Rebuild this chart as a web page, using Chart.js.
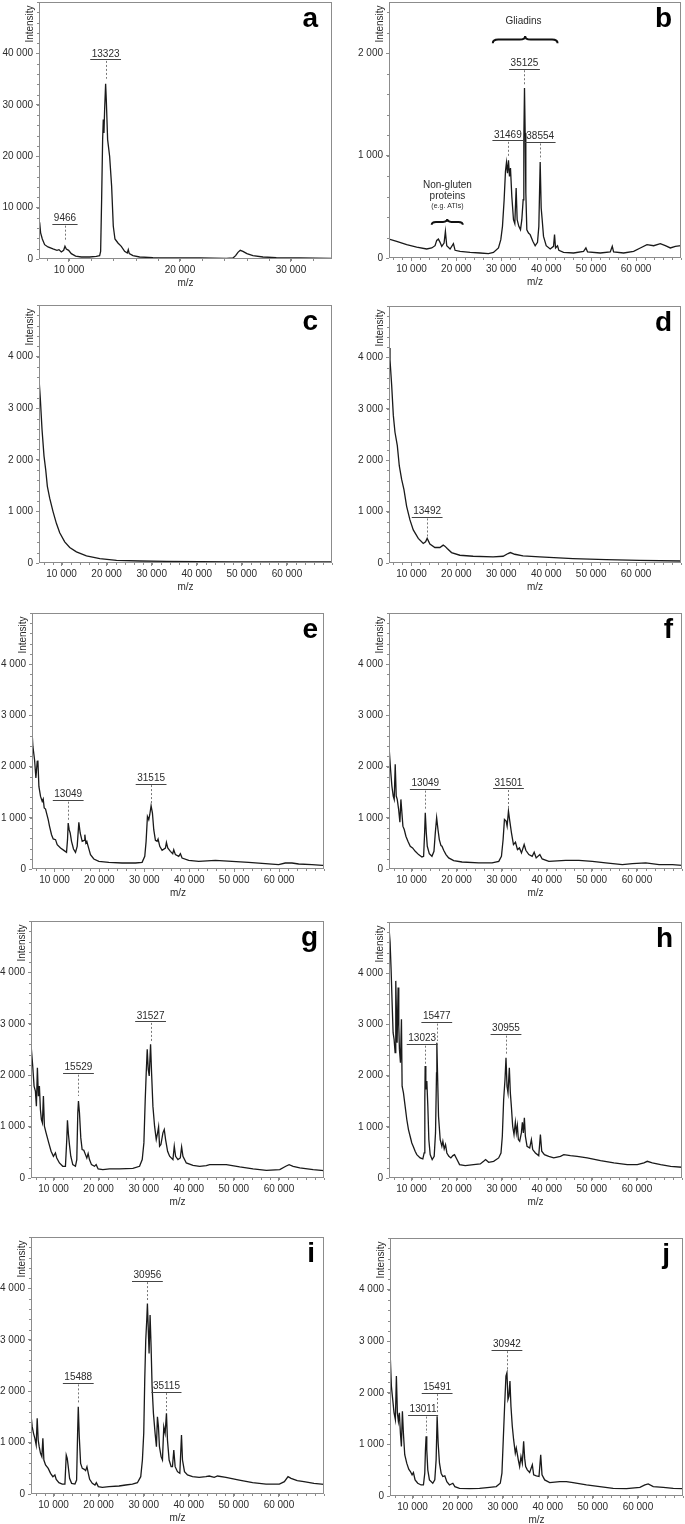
<!DOCTYPE html>
<html>
<head>
<meta charset="utf-8">
<script src="https://cdn.jsdelivr.net/npm/chart.js@4.4.1/dist/chart.umd.min.js"></script>
<style>
  body { margin: 0; background: #fff; }
  #fig { position: relative; width: 685px; height: 1524px; overflow: hidden; }
  #fig canvas { position: absolute; }
</style>
</head>
<body>
<div id="fig"></div>
<script>
// MALDI spectra, panels a-j. m/z and intensity.

const MZ_A = [7297,7357,7447,7598,7808,8108,8559,8919,9099,9309,9520,9640,9760,9970,10210,10600,11111,11862,12462,12763,12853,12943,13033,13093,13153,13213,13303,13363,13483,13664,13844,13994,14144,14414,14715,15015,15255,15345,15435,15766,16366,17567,19369,21777,24180,24775,25015,25225,25435,25675,26035,26576,27477,28679,30781,33694];
const INT_A = [5700,7140,5060,3890,2790,2340,1950,1690,1820,1360,1690,2470,1950,1690,1040,580,390,390,520,650,1490,11550,23230,27130,24530,29080,34070,31020,23230,19990,14150,6360,3890,3120,2470,1490,1170,1820,1040,650,390,260,195,195,130,195,650,1300,1690,1490,1040,650,390,260,195,130];

const MZ_B = [5000,6709,8937,11166,13395,14509,15252,15623,15995,16366,16738,17258,17555,17852,18595,19338,19709,20824,23052,25281,27138,28253,29367,29887,30259,30630,30927,31150,31373,31596,31819,32042,32339,32710,33007,33304,33527,33899,34270,34567,34865,35013,35162,35310,35459,35682,36053,36425,37019,37539,38059,38356,38653,38876,39099,39396,39991,40882,41625,41848,42071,42516,42813,43853,46082,48311,48831,49203,52026,54254,54700,54997,57226,59455,60940,62426,63912,65398,66512,67627,68741,70004];
const INT_B = [185,163,130,107,88,98,120,172,185,153,114,146,260,120,88,140,75,65,55,49,42,55,98,179,309,569,846,933,829,953,797,878,602,374,335,683,374,309,276,374,569,1154,1659,1220,634,276,244,228,163,120,153,309,937,488,374,211,120,88,114,228,98,120,75,55,49,65,98,59,49,59,114,59,49,65,98,130,120,140,120,98,114,120];

const MZ_C = [5000,5296,5667,6112,6482,6853,7372,8113,8854,9595,10707,11819,13301,15525,18490,22196,27384,33314,40726,48138,55550,62962,70000];
const INT_C = [3570,3180,2593,2072,1811,1485,1257,997,769,586,410,300,215,137,85,52,39,33,26,20,20,20,20];

const MZ_D = [5000,5222,5592,5962,6333,6851,7295,7813,8331,8924,9664,10404,11515,12625,13143,13492,14106,15216,16327,17067,17437,17955,18918,20768,23729,28171,30392,31503,32021,32983,34834,38536,45939,53342,60745,70000];
const INT_D = [4183,3954,3462,2872,2544,2282,1888,1626,1429,1102,839,643,479,380,413,479,367,302,302,348,328,282,203,151,131,118,131,184,203,170,138,118,85,66,52,39];

const MZ_E = [4680,4902,5199,5569,5866,6162,6311,6533,6904,7274,7497,7719,8015,8238,8608,8905,9350,9720,10239,10610,11351,12092,12685,12907,13056,13278,13500,13797,14241,14686,15057,15428,15724,16169,16614,16762,16984,17206,17503,18022,18763,19875,22098,25063,28028,29510,30103,30400,30696,30993,31215,31511,31808,32104,32475,32846,33068,33439,33957,34699,34921,35217,35810,36329,36552,36922,37663,38034,38405,39887,42111,45817,49523,53229,56935,59900,61382,62864,64357,67311,69683,70000];
const INT_E = [3110,2850,2394,2134,1776,2101,2121,1613,1418,1321,1366,1191,1171,1093,963,833,670,586,573,475,410,364,325,573,898,768,703,540,390,325,442,911,703,540,560,670,507,540,442,280,195,150,130,117,117,130,247,540,1028,963,1060,1236,1093,768,560,540,586,442,364,410,520,410,345,299,377,280,247,299,215,169,150,169,150,130,104,85,117,117,98,85,72,72];

const MZ_F = [4750,5046,5343,5639,5936,6158,6380,6603,6825,7121,7418,7640,7862,8085,8381,8751,9196,9715,10233,10826,11567,12308,12679,12901,13049,13272,13494,13938,14531,14976,15272,15569,15865,16161,16532,16754,17125,17643,18236,19348,21200,24905,27869,29351,29944,30315,30611,30981,31204,31501,31797,32167,32612,33056,33501,33945,34390,34983,35353,36020,36761,37206,37650,38466,38984,40466,44171,47135,50099,53063,56768,58991,61955,64919,67883,70000];
const INT_F = [2667,2340,1948,1621,1425,1359,2046,1425,1359,1176,915,1359,1098,837,771,641,542,444,412,346,281,235,248,706,1098,706,444,301,248,346,706,1000,771,575,458,444,366,281,216,163,137,118,118,150,248,575,967,935,837,1131,935,706,477,523,379,412,314,477,366,281,248,327,216,281,196,150,170,170,150,118,85,105,118,85,85,72];

const MZ_G = [4864,5086,5382,5679,5975,6197,6419,6641,6864,7086,7308,7530,7752,7975,8345,8937,9456,9974,10419,10715,11307,12048,12640,12937,13085,13307,13529,13825,14270,14862,15158,15381,15529,15751,16047,16343,16714,17084,17380,17676,17973,18417,19084,19454,19898,20935,22416,24638,27600,29081,29674,30044,30341,30563,30785,31007,31229,31526,31748,32044,32414,32785,33081,33303,33525,33821,34266,34562,34858,35303,35747,36488,36784,37080,37599,38117,38413,38709,39450,40931,42412,43893,44634,46115,48337,51299,54262,57224,60186,61519,62260,63149,64630,67593,69963];
const INT_G = [2829,2504,2179,1789,1691,1398,2146,1593,1789,1333,1138,1073,1593,1008,878,683,520,423,488,390,293,228,228,748,1125,845,650,423,260,228,358,1268,1496,1268,780,553,540,455,390,475,358,260,228,260,176,163,176,176,189,228,358,683,1528,2049,2504,2114,1984,2602,2049,1398,1008,748,878,995,618,650,878,943,748,520,423,358,618,423,358,390,605,423,293,247,228,241,260,260,260,215,176,150,163,228,260,228,195,163,143];

const MZ_H = [5020,5242,5465,5687,5909,6132,6354,6502,6650,6798,7021,7169,7317,7539,7762,7910,8206,8577,8947,9318,9688,10059,10429,10800,11170,11911,12504,12801,12949,13023,13171,13393,13616,13838,14134,14579,15024,15320,15542,15616,15764,15987,16357,16728,16950,17247,17543,17839,18284,18729,19171,19542,19912,20653,21915,23767,25249,25990,26435,27102,28213,29325,29844,30140,30436,30733,30955,31177,31400,31696,31918,32141,32437,32733,33030,33252,33474,33697,33993,34364,34586,34808,35031,35253,35623,36216,36587,36883,37476,38217,38587,38884,39477,40440,41551,43033,43774,45256,46738,48961,51925,54889,57853,60076,61558,62299,63411,65263,67486,70080];
const INT_H = [4861,4600,4078,3426,2838,2708,2447,3850,3230,2643,3719,2969,2512,2251,3099,1794,1664,1403,1142,946,816,685,607,522,457,392,372,489,1533,2186,1729,1892,1403,750,457,359,424,881,2055,2643,2055,1207,750,620,718,568,652,489,424,392,437,457,392,261,241,261,274,326,359,307,326,392,489,816,1533,1925,2349,1794,1664,2153,1664,1403,1011,848,1090,881,1024,750,718,881,1090,881,1174,816,620,587,750,555,489,437,848,522,457,424,392,424,457,437,424,392,339,294,261,261,294,326,294,261,228,209];

const MZ_I = [4743,4965,5262,5558,5855,6151,6373,6596,6818,7115,7411,7633,7855,8226,8819,9337,9856,10301,10597,11190,11931,12524,12820,13042,13265,13561,14006,14747,15117,15339,15488,15710,16006,16377,16821,17118,17414,17711,18007,18600,19193,19489,19934,20823,22305,24528,26010,27492,28603,29344,29715,30011,30233,30456,30678,30826,31048,31197,31419,31641,31864,32160,32531,32827,33049,33272,33494,33864,34161,34457,34754,35050,35272,35643,36087,36384,36680,36977,37496,38015,38385,38608,39052,39718,40830,42312,43794,44535,45646,46387,48240,51204,54168,57132,60096,61208,62022,62689,64059,65541,67766,70134];
const INT_I = [1828,1569,1310,1180,1083,953,1472,1050,921,791,726,1083,661,564,499,402,337,370,285,220,194,194,759,694,532,305,207,194,272,1180,1699,1115,596,499,480,454,532,402,285,207,175,220,143,130,143,156,175,194,220,337,661,1180,2217,2995,3384,3708,3125,2736,3481,2865,2087,1569,1180,921,1504,1310,921,726,661,1310,1180,1569,1050,661,532,532,856,532,434,402,1148,661,434,370,337,324,337,350,324,350,324,272,220,194,194,240,337,305,259,240,207,188];

const MZ_J = [4860,5082,5305,5601,5897,6194,6416,6638,6861,7083,7305,7528,7750,7972,8269,8713,9158,9528,9899,10195,10566,11159,11900,12418,12715,12863,13011,13159,13382,13752,14493,14938,15234,15457,15679,15975,16346,16716,17161,17605,18198,18939,19384,20421,22644,24867,27090,28572,29461,29832,30128,30425,30721,30943,31166,31388,31610,31832,32129,32425,32796,33018,33240,33463,33759,34055,34352,34648,34871,35093,35463,35982,36575,36871,37464,38057,38433,38724,39317,40428,42651,44133,45615,48579,51543,54507,57471,60435,61547,62288,63399,65622,67845,70068];
const INT_J = [3137,2650,2130,1870,1611,1481,2325,1611,1448,1611,1221,961,1643,1221,799,636,520,474,409,455,312,247,214,214,442,896,1156,896,507,312,247,312,701,1546,1026,636,442,377,390,279,214,247,182,149,143,149,169,182,247,442,1091,1740,2325,2390,1870,1935,2227,1740,1351,1091,831,929,818,701,571,766,636,1058,734,571,507,455,604,409,390,377,799,409,312,260,279,279,260,214,182,149,143,169,214,234,182,169,149,143];

const X_TICKS_A = [10000, 20000, 30000];
const X_TICKS = [10000, 20000, 30000, 40000, 50000, 60000];
const Y_TICKS_A = [0, 10000, 20000, 30000, 40000];
const Y_TICKS_B = [0, 1000, 2000];
const Y_TICKS = [0, 1000, 2000, 3000, 4000];

// peak labels: text, m/z of the dashed line, intensity of the label, intensity where the line stops
const NOTES_A = [
    { text: '13323', x: 13303, y: 39900, end: 35050 },
    { text: '9466', x: 9640, y: 7850, end: 3630 }
];
const NOTES_B = [
    { text: '35125', x: 35162, y: 1902, end: 1690 },
    { text: '31469', x: 31450, y: 1203, end: 992 },
    { text: '38554', x: 38653, y: 1187, end: 959 }
];
const NOTES_D = [{ text: '13492', x: 13492, y: 1003, end: 511 }];
const NOTES_E = [
    { text: '13049', x: 13056, y: 1451, end: 963 },
    { text: '31515', x: 31511, y: 1776, end: 1288 }
];
const NOTES_F = [
    { text: '13049', x: 13049, y: 1667, end: 1163 },
    { text: '31501', x: 31501, y: 1680, end: 1196 }
];
const NOTES_G = [
    { text: '15529', x: 15529, y: 2146, end: 1593 },
    { text: '31527', x: 31526, y: 3154, end: 2667 }
];
const NOTES_H = [
    { text: '13023', x: 13023, y: 2721, end: 2218, dx: -3 },
    { text: '15477', x: 15600, y: 3152, end: 2675 },
    { text: '30955', x: 30955, y: 2917, end: 2414 }
];
const NOTES_I = [
    { text: '15488', x: 15488, y: 2269, end: 1750 },
    { text: '30956', x: 30826, y: 4259, end: 3773 },
    { text: '35115', x: 35050, y: 2100, end: 1621 }
];
const NOTES_J = [
    { text: '13011', x: 13011, y: 1675, end: 1221, dx: -3 },
    { text: '15491', x: 15457, y: 2111, end: 1611 },
    { text: '30942', x: 30943, y: 2942, end: 2455 }
];

const TEXTS_B = [
    { text: 'Gliadins', x: 34939, y: 2309, size: 10 },
    { text: 'Non-gluten', x: 18000, y: 715, size: 10 },
    { text: 'proteins', x: 18000, y: 602, size: 10 },
    { text: '(e.g. ATIs)', x: 18000, y: 504, size: 7 }
];
const BRACES_B = [
    { x1: 28105, x2: 42516, y: 2098, tip: 2169 },
    { x1: 14509, x2: 21418, y: 325, tip: 380 }
];

const FONT = 'Liberation Sans, Arial, sans-serif';
const INK = '#2b2b2b';
const FRAME = '#8c8c8c';

const PANELS = [
    { id: 'a', mz: MZ_A, int: INT_A, xMin: 7300, xMax: 33700, yMax: 50000, xTicks: X_TICKS_A, yTicks: Y_TICKS_A, notes: NOTES_A, box: [39, 2, 332, 259], col: 0, inset: 14 },
    { id: 'b', mz: MZ_B, int: INT_B, xMin: 5000, xMax: 70000, yMax: 2500, xTicks: X_TICKS, yTicks: Y_TICKS_B, notes: NOTES_B, box: [389, 2, 681, 258], col: 1, inset: 9, texts: TEXTS_B, braces: BRACES_B },
    { id: 'c', mz: MZ_C, int: INT_C, xMin: 5000, xMax: 70000, yMax: 5000, xTicks: X_TICKS, yTicks: Y_TICKS, notes: [], box: [39, 305, 332, 563], col: 0, inset: 14 },
    { id: 'd', mz: MZ_D, int: INT_D, xMin: 5000, xMax: 70000, yMax: 5000, xTicks: X_TICKS, yTicks: Y_TICKS, notes: NOTES_D, box: [389, 306, 681, 563], col: 1, inset: 9 },
    { id: 'e', mz: MZ_E, int: INT_E, xMin: 5000, xMax: 70000, yMax: 5000, xTicks: X_TICKS, yTicks: Y_TICKS, notes: NOTES_E, box: [32, 613, 324, 869], col: 0, inset: 6 },
    { id: 'f', mz: MZ_F, int: INT_F, xMin: 5000, xMax: 70000, yMax: 5000, xTicks: X_TICKS, yTicks: Y_TICKS, notes: NOTES_F, box: [389, 613, 682, 869], col: 1, inset: 9 },
    { id: 'g', mz: MZ_G, int: INT_G, xMin: 5000, xMax: 70000, yMax: 5000, xTicks: X_TICKS, yTicks: Y_TICKS, notes: NOTES_G, box: [31, 921, 324, 1178], col: 0, inset: 6 },
    { id: 'h', mz: MZ_H, int: INT_H, xMin: 5000, xMax: 70000, yMax: 5000, xTicks: X_TICKS, yTicks: Y_TICKS, notes: NOTES_H, box: [389, 922, 682, 1178], col: 1, inset: 9 },
    { id: 'i', mz: MZ_I, int: INT_I, xMin: 5000, xMax: 70000, yMax: 5000, xTicks: X_TICKS, yTicks: Y_TICKS, notes: NOTES_I, box: [31, 1237, 324, 1494], col: 0, inset: 9 },
    { id: 'j', mz: MZ_J, int: INT_J, xMin: 5000, xMax: 70000, yMax: 5000, xTicks: X_TICKS, yTicks: Y_TICKS, notes: NOTES_J, box: [390, 1238, 683, 1496], col: 1, inset: 13 }
];

const AXIS_H = 32;
const CANVAS_W = 340;

function formatThousands(value) {
    return String(value).replace(/\B(?=(\d{3})+(?!\d))/g, ' ');
}

function drawBrace(ctx, x1, x2, yEnd, yTip) {
    const r = (yEnd - yTip) / 2;
    const xm = (x1 + x2) / 2;
    const yMid = yEnd - r;
    ctx.beginPath();
    ctx.moveTo(x1, yEnd);
    ctx.quadraticCurveTo(x1, yMid, x1 + r * 1.5, yMid);
    ctx.lineTo(xm - r * 1.5, yMid);
    ctx.quadraticCurveTo(xm, yMid, xm, yTip);
    ctx.quadraticCurveTo(xm, yMid, xm + r * 1.5, yMid);
    ctx.lineTo(x2 - r * 1.5, yMid);
    ctx.quadraticCurveTo(x2, yMid, x2, yEnd);
    ctx.stroke();
}

function makeDecorations(panel, offsetX, offsetY) {
    return {
        id: 'decorations_' + panel.id,
        afterDatasetsDraw(chart) {
            const { ctx, chartArea: area } = chart;
            const xs = chart.scales.x;
            const ys = chart.scales.y;
            const [l, t, r] = panel.box;
            ctx.save();

            // frame
            ctx.strokeStyle = FRAME;
            ctx.lineWidth = 1;
            ctx.strokeRect(Math.round(area.left) + 0.5, Math.round(area.top) + 0.5,
                Math.round(area.width) - 1, Math.round(area.height) - 1);

            // minor ticks, five per major step
            const xStep = (panel.xTicks[1] - panel.xTicks[0]) / 5;
            const yStep = (panel.yTicks[1] - panel.yTicks[0]) / 5;
            ctx.beginPath();
            for (let v = Math.ceil(panel.xMin / xStep) * xStep; v <= panel.xMax; v += xStep) {
                const px = Math.round(xs.getPixelForValue(v)) + 0.5;
                ctx.moveTo(px, Math.round(area.bottom));
                ctx.lineTo(px, Math.round(area.bottom) + 2);
            }
            for (let v = 0; v <= panel.yMax; v += yStep) {
                const py = Math.round(ys.getPixelForValue(v)) + 0.5;
                ctx.moveTo(Math.round(area.left), py);
                ctx.lineTo(Math.round(area.left) - 2, py);
            }
            ctx.stroke();

            // peak labels
            ctx.font = `10px ${FONT}`;
            ctx.textAlign = 'center';
            ctx.textBaseline = 'middle';
            panel.notes.forEach(note => {
                const px = xs.getPixelForValue(note.x);
                const tx = px + (note.dx || 0);
                const py = ys.getPixelForValue(note.y);
                const w = ctx.measureText(note.text).width;
                ctx.fillStyle = INK;
                ctx.fillText(note.text, tx, py);
                ctx.strokeStyle = '#444';
                ctx.setLineDash([]);
                ctx.beginPath();
                ctx.moveTo(tx - w / 2 - 1.5, Math.round(py + 5.5) + 0.5);
                ctx.lineTo(tx + w / 2 + 1.5, Math.round(py + 5.5) + 0.5);
                ctx.stroke();
                ctx.strokeStyle = '#777';
                ctx.setLineDash([2, 2]);
                ctx.beginPath();
                ctx.moveTo(Math.round(px) + 0.5, py + 7);
                ctx.lineTo(Math.round(px) + 0.5, ys.getPixelForValue(note.end));
                ctx.stroke();
                ctx.setLineDash([]);
            });

            (panel.texts || []).forEach(item => {
                ctx.font = `${item.size}px ${FONT}`;
                ctx.fillStyle = INK;
                ctx.fillText(item.text, xs.getPixelForValue(item.x), ys.getPixelForValue(item.y));
            });

            ctx.strokeStyle = '#111';
            ctx.lineWidth = 2;
            (panel.braces || []).forEach(brace => {
                drawBrace(ctx, xs.getPixelForValue(brace.x1), xs.getPixelForValue(brace.x2),
                    ys.getPixelForValue(brace.y), ys.getPixelForValue(brace.tip));
            });

            // y title
            ctx.save();
            ctx.translate(l - offsetX - 9, t - offsetY + 22);
            ctx.rotate(-Math.PI / 2);
            ctx.font = `10px ${FONT}`;
            ctx.fillStyle = INK;
            ctx.textAlign = 'center';
            ctx.textBaseline = 'middle';
            ctx.fillText('Intensity', 0, 0);
            ctx.restore();

            // panel letter
            ctx.font = `bold 28px ${FONT}`;
            ctx.fillStyle = '#000';
            ctx.textAlign = 'right';
            ctx.textBaseline = 'alphabetic';
            ctx.fillText(panel.id, r - offsetX - panel.inset, t - offsetY + 25);

            ctx.restore();
        }
    };
}

function renderPanel(panel) {
    const [l, t, r, b] = panel.box;
    const offsetX = panel.col ? 345 : 0;
    const padTop = Math.min(4, t);
    const offsetY = t - padTop;
    const canvas = document.createElement('canvas');
    canvas.width = CANVAS_W;
    canvas.height = padTop + (b - t) + AXIS_H;
    canvas.style.left = offsetX + 'px';
    canvas.style.top = offsetY + 'px';
    document.getElementById('fig').appendChild(canvas);

    const tickFont = { family: FONT, size: 10 };
    new Chart(canvas, {
        type: 'line',
        data: {
            datasets: [{
                data: panel.mz.map((x, i) => ({ x, y: panel.int[i] })),
                borderColor: '#1a1a1a',
                borderWidth: 1.3,
                pointRadius: 0,
                tension: 0,
                fill: false
            }]
        },
        options: {
            responsive: false,
            animation: false,
            devicePixelRatio: 1,
            layout: { padding: { top: padTop, right: offsetX + CANVAS_W - r, left: 0, bottom: 0 } },
            plugins: { legend: { display: false }, tooltip: { enabled: false } },
            scales: {
                x: {
                    type: 'linear',
                    min: panel.xMin,
                    max: panel.xMax,
                    afterBuildTicks: scale => { scale.ticks = panel.xTicks.map(value => ({ value })); },
                    afterFit: scale => {
                        scale.height = AXIS_H;
                        scale.paddingLeft = 0;
                        scale.paddingRight = 0;
                    },
                    ticks: { callback: formatThousands, font: tickFont, color: INK, padding: 2, maxRotation: 0, autoSkip: false },
                    grid: { drawOnChartArea: false, drawTicks: true, tickLength: 3, color: FRAME },
                    border: { display: false },
                    title: { display: true, text: 'm/z', font: tickFont, color: INK, padding: { top: 0, bottom: 2 } }
                },
                y: {
                    type: 'linear',
                    min: 0,
                    max: panel.yMax,
                    afterBuildTicks: scale => { scale.ticks = panel.yTicks.map(value => ({ value })); },
                    afterFit: scale => {
                        scale.width = l - offsetX;
                        scale.paddingTop = 0;
                        scale.paddingBottom = 0;
                    },
                    ticks: { callback: formatThousands, font: tickFont, color: INK, padding: 3, autoSkip: false },
                    grid: { drawOnChartArea: false, drawTicks: true, tickLength: 3, color: FRAME },
                    border: { display: false }
                }
            }
        },
        plugins: [makeDecorations(panel, offsetX, offsetY)]
    });
}

PANELS.forEach(renderPanel);
</script>
</body>
</html>
